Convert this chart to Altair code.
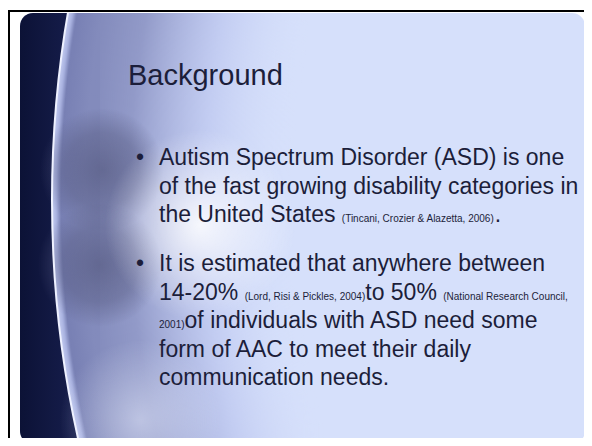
import altair as alt
import pandas as pd

# ---------------- content ----------------
title = "Background"
bullet1_lines = [
    [("Autism Spectrum Disorder (ASD) is one", "main")],
    [("of the fast growing disability categories in", "main")],
    [("the United States ", "main"), ("(Tincani, Crozier & Alazetta, 2006)", "cite"), (".", "main")],
]
bullet2_lines = [
    [("It is estimated that anywhere between", "main")],
    [("14-20% ", "main"), ("(Lord, Risi & Pickles, 2004)", "cite"),
     ("to 50% ", "main"), ("(National Research Council,", "cite")],
    [("2001)", "cite"), ("of individuals with ASD need some", "main")],
    [("form of AAC to meet their daily", "main")],
    [("communication needs.", "main")],
]

# ---------------- layout ----------------
W, H = 576, 430
OX, OY = 8, 8
TITLE_SIZE, MAIN_SIZE, CITE_SIZE = 29, 23, 10
TEXT_COLOR = "#1c1e3a"
FONT = "Liberation Sans"

ARIAL = {" ": 278, "!": 278, "%": 889, "&": 667, "(": 333, ")": 333, ",": 278, "-": 333, ".": 278,
         "•": 350}
for ch in "0123456789":
    ARIAL[ch] = 556
ARIAL.update(dict(zip("ABCDEFGHIJKLMNOPQRSTUVWXYZ",
                      [667, 667, 722, 722, 667, 611, 778, 722, 278, 500, 667, 556, 833, 722, 778,
                       667, 778, 722, 667, 611, 722, 667, 944, 667, 667, 611])))
ARIAL.update(dict(zip("abcdefghijklmnopqrstuvwxyz",
                      [556, 556, 500, 556, 556, 278, 556, 556, 222, 222, 500, 222, 833, 556, 556,
                       556, 556, 333, 500, 278, 556, 500, 722, 500, 500, 500])))


def text_width(s, size):
    return sum(ARIAL.get(c, 556) for c in s) * size / 1000.0


rows = [dict(text=title, x=128, y=85, size=TITLE_SIZE)]


def add_paragraph(lines, x0, y0, lh):
    rows.append(dict(text="•", x=x0 - 23, y=y0, size=MAIN_SIZE))
    for i, segs in enumerate(lines):
        x = x0
        for txt, kind in segs:
            size = MAIN_SIZE if kind == "main" else CITE_SIZE
            rows.append(dict(text=txt, x=x, y=y0 + i * lh, size=size))
            x += text_width(txt, size)


add_paragraph(bullet1_lines, 159, 165, 28.5)
add_paragraph(bullet2_lines, 159, 271, 28.5)
text_df = pd.DataFrame(rows)

xs = alt.Scale(domain=[OX, OX + W])
ys = alt.Scale(domain=[OY, OY + H], reverse=True)


def rect_layer(x, x2, y, y2, **mark):
    df = pd.DataFrame({"x": [x], "x2": [x2], "y": [y], "y2": [y2]})
    return alt.Chart(df).mark_rect(**mark).encode(
        x=alt.X("x:Q", scale=xs, axis=None), x2="x2:Q",
        y=alt.Y("y:Q", scale=ys, axis=None), y2="y2:Q")


def circle_layer(cx, cy, r, **mark):
    df = pd.DataFrame({"x": [cx], "y": [cy]})
    return alt.Chart(df).mark_point(shape="circle", size=(2 * r) ** 2, opacity=1, **mark).encode(
        x=alt.X("x:Q", scale=xs, axis=None),
        y=alt.Y("y:Q", scale=ys, axis=None))


def radial(stops):
    return alt.Gradient(gradient="radial",
                        stops=[alt.GradientStop(color=c, offset=o) for o, c in stops],
                        x1=0.5, y1=0.5, r1=0, x2=0.5, y2=0.5, r2=0.5)


slide = rect_layer(20, 585, 13, 444, cornerRadius=13, fill="#d6e0fb")
dark = rect_layer(20, 100, 13, 444, cornerRadius=13,
                  fill=alt.Gradient(gradient="linear",
                                    stops=[alt.GradientStop(color="#0c1236", offset=0),
                                           alt.GradientStop(color="#1b2356", offset=1)],
                                    x1=0, x2=1, y1=0, y2=0))
GR = 1098
globe = circle_layer(1150, 200, GR, filled=True, strokeWidth=0, fill=radial([
    (0.0, "rgba(214,224,251,0)"),
    (0.78, "rgba(214,224,251,0)"),
    (0.86, "rgba(182,192,236,0.6)"),
    (0.93, "rgba(140,148,196,0.92)"),
    (0.97, "#838bbc"),
    (0.992, "#7880b4"),
    (0.996, "#a9b2e0"),
    (1.0, "#c3cbf0"),
]))
edge = circle_layer(1150, 200, GR, filled=False, stroke="#eef1ff", strokeWidth=2)
GEAR = [(0.0, "rgba(85,89,128,0.7)"), (0.6, "rgba(85,89,128,0.45)"), (1.0, "rgba(85,89,128,0)")]
gear1 = circle_layer(102, 170, 62, filled=True, strokeWidth=0, fill=radial(GEAR))
gear2 = circle_layer(100, 265, 62, filled=True, strokeWidth=0, fill=radial(GEAR))
glow = circle_layer(200, 225, 95, filled=True, strokeWidth=0, fill=radial([
    (0.0, "rgba(255,255,255,0.85)"), (0.45, "rgba(255,255,255,0.45)"), (1.0, "rgba(255,255,255,0)")]))
glow2 = circle_layer(140, 420, 80, filled=True, strokeWidth=0, fill=radial([
    (0.0, "rgba(235,240,255,0.5)"), (1.0, "rgba(235,240,255,0)")]))
mask_top = rect_layer(8, 600, 0, 13, fill="white")
line_top = rect_layer(8, 600, 10, 12, fill="black")
line_left = rect_layer(8, 10, 10, 460, fill="black")

texts = alt.Chart(text_df).mark_text(
    align="left", baseline="alphabetic", font=FONT, color=TEXT_COLOR).encode(
    x=alt.X("x:Q", scale=xs, axis=None),
    y=alt.Y("y:Q", scale=ys, axis=None),
    text="text:N",
    size=alt.Size("size:Q", scale=None),
)

chart = alt.layer(slide, dark, globe, gear1, gear2, glow, glow2, edge, mask_top, line_top,
                  line_left, texts).properties(
    width=W, height=H, autosize=alt.AutoSizeParams(type="none"), padding=0,
    background="white").configure_view(stroke=None)

chart.save("out.html", embed_options={"renderer": "svg", "actions": False})
